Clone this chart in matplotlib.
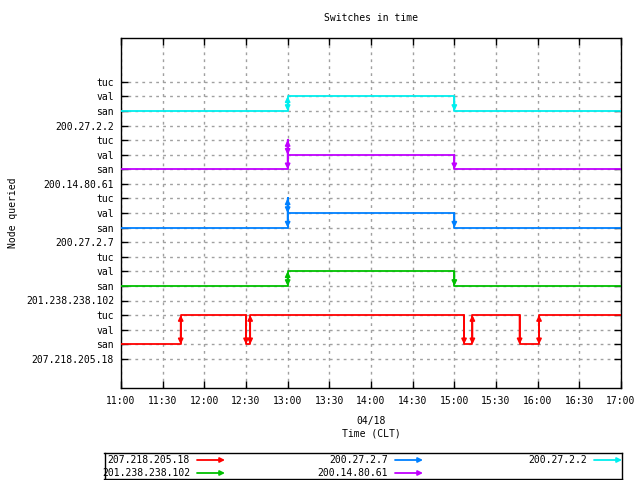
import matplotlib
matplotlib.use("Agg")
import matplotlib.pyplot as plt
import matplotlib.dates as mdates
from datetime import datetime

plt.rcParams['font.family'] = ['DejaVu Sans Mono']
plt.rcParams['font.size'] = 7


def t(hm):
    h, m = hm.split(":")
    return datetime(2008, 4, 18, int(h), int(m))


nodes = ["207.218.205.18", "201.238.238.102", "200.27.2.7", "200.14.80.61", "200.27.2.2"]
colors = ["#ff0000", "#00c000", "#0080ff", "#c000ff", "#00eeee"]
states = ["san", "val", "tuc"]

# switch times and new state per node (first entry is the starting state)
red_times = ["11:00", "11:43", "12:30", "12:33", "15:07", "15:13", "15:47", "16:01"]
red_states = ["san", "tuc", "san", "tuc", "san", "tuc", "san", "tuc"]
green_times = ["11:00", "13:00", "15:00"]
green_states = ["san", "val", "san"]
blue_times = ["11:00", "13:00", "13:00", "15:00"]
blue_states = ["san", "tuc", "val", "san"]
purple_times = ["11:00", "13:00", "13:00", "15:00"]
purple_states = ["san", "tuc", "val", "san"]
cyan_times = ["11:00", "13:00", "15:00"]
cyan_states = ["san", "val", "san"]

series = [(red_times, red_states), (green_times, green_states),
          (blue_times, blue_states), (purple_times, purple_states),
          (cyan_times, cyan_states)]
t_start, t_end = "11:00", "17:00"

fig = plt.figure(figsize=(6.4, 4.8), dpi=100)
# left, bottom, width, height
ax = fig.add_axes([121 / 640, 92 / 480, 500 / 640, 350 / 480])

for i, (times, sts) in enumerate(series):
    base = 4 * i
    xs = [t(s) for s in times] + [t(t_end)]
    ys = [base + 1 + states.index(s) for s in sts]
    ys = ys + [ys[-1]]
    ax.step(xs, ys, where='post', color=colors[i], lw=1.3, zorder=3)
    for k in range(1, len(times)):
        y0, y1 = ys[k - 1], ys[k]
        style = '<|-|>' if y1 > y0 else '-|>'
        ax.annotate('', xy=(xs[k], y1), xytext=(xs[k], y0),
                    arrowprops=dict(arrowstyle=style, color=colors[i], lw=1.3,
                                    mutation_scale=7, shrinkA=0, shrinkB=0),
                    zorder=4)

yticks = []
ylabels = []
for i, n in enumerate(nodes):
    yticks.append(4 * i)
    ylabels.append(n)
    for j, s in enumerate(states):
        yticks.append(4 * i + 1 + j)
        ylabels.append(s)

ax.set_ylim(-2, 22)
ax.set_xlim(t(t_start), t(t_end))
ax.set_yticks(yticks)
ax.set_yticklabels(ylabels)
ax.xaxis.set_major_locator(mdates.MinuteLocator(byminute=[0, 30]))
ax.xaxis.set_major_formatter(mdates.DateFormatter('%H:%M'))
ax.tick_params(direction='in', length=5, width=1, top=True, right=True, pad=6)
ax.tick_params(axis='y', pad=5)
ax.grid(True, color='#a0a0a0', linestyle=(0, (2, 3)), lw=1)
for sp in ax.spines.values():
    sp.set_linewidth(1)

fig.text(371 / 640, 1 - 18 / 480, "Switches in time", ha='center', va='center')
fig.text(371 / 640, 1 - 421 / 480, "04/18", ha='center', va='center')
fig.text(371 / 640, 1 - 434 / 480, "Time (CLT)", ha='center', va='center')
fig.text(13 / 640, 1 - 213 / 480, "Node queried", ha='center', va='center', rotation=90)

# legend box, gnuplot style
lg = fig.add_axes([104.5 / 640, 1.5 / 480, 517 / 640, 26 / 480])
lg.set_xlim(104.5, 621.5)
lg.set_ylim(478.5, 452.5)
lg.set_xticks([])
lg.set_yticks([])
for sp in lg.spines.values():
    sp.set_linewidth(1)
col_x = [190, 388, 587]
row_y = [460, 473]
for i, n in enumerate(nodes):
    cx = col_x[i // 2]
    ry = row_y[i % 2]
    lg.text(cx, ry, n, ha='right', va='center')
    lg.annotate('', xy=(cx + 35, ry), xytext=(cx + 7, ry),
                arrowprops=dict(arrowstyle='-|>', color=colors[i], lw=1.3,
                                mutation_scale=7, shrinkA=0, shrinkB=0))

fig.savefig("out.png", dpi=100)
